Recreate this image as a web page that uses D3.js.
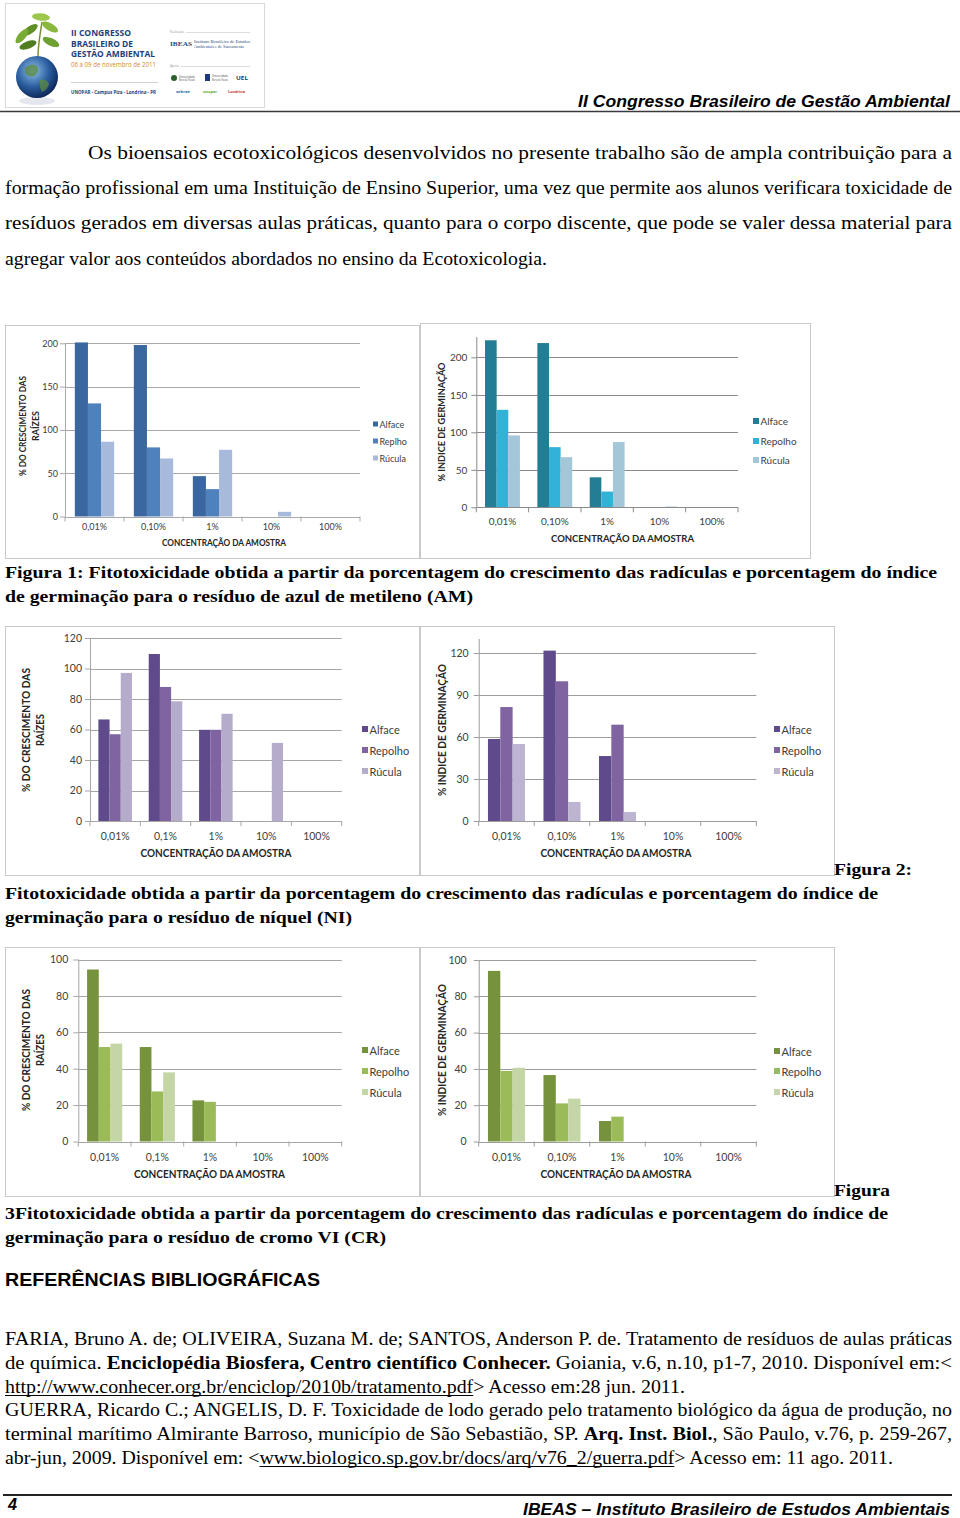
<!DOCTYPE html>
<html><head><meta charset="utf-8">
<script src="https://cdn.jsdelivr.net/npm/d3@7"></script>
<style>html,body{margin:0;padding:0;background:#fff}svg{display:block}</style>
</head><body>
<svg id="page" width="960" height="1518"></svg>
<script>
// ---------------- DATA ----------------
const concA = ["0,01%","0,10%","1%","10%","100%"];
const concB = ["0,01%","0,1%","1%","10%","100%"];
const speciesF1 = ["Alface","Replho","Rúcula"];
const species = ["Alface","Repolho","Rúcula"];

// Figura 1 – azul de metileno (AM)
const amRaizAlface  = [201, 198, 46.6, 0, 0];
const amRaizRepolho = [130.6, 79.8, 31.6, 0, 0];
const amRaizRucula  = [86.3, 67, 77, 5.4, 0];
const amGermAlface  = [222.7, 219, 40, 0, 0];
const amGermRepolho = [130, 80.2, 21, 0, 0];
const amGermRucula  = [95.8, 66.8, 87, 1, 0];
// Figura 2 – níquel (NI)
const niRaizAlface  = [66.6, 109.5, 59.8, 0, 0];
const niRaizRepolho = [56.9, 87.9, 59.8, 0, 0];
const niRaizRucula  = [97.1, 78.5, 70.3, 51.2, 0];
const niGermAlface  = [58.6, 121.7, 46.4, 0, 0];
const niGermRepolho = [81.4, 99.8, 68.8, 0, 0];
const niGermRucula  = [55, 13.6, 6.4, 0, 0];
// Figura 3 – cromo VI (CR)
const crRaizAlface  = [94.5, 51.9, 22.6, 0, 0];
const crRaizRepolho = [51.9, 27.5, 21.8, 0, 0];
const crRaizRucula  = [53.8, 38, 0, 0, 0];
const crGermAlface  = [94, 36.6, 11.3, 0, 0];
const crGermRepolho = [38.9, 21, 13.7, 0, 0];
const crGermRucula  = [40.6, 23.6, 0, 0, 0];

const ticksAM = [0, 50, 100, 150, 200];
const ticksNIRaiz = [0, 20, 40, 60, 80, 100, 120];
const ticksNIGerm = [0, 30, 60, 90, 120];
const ticksCR = [0, 20, 40, 60, 80, 100];

const yTitleRaiz = ["% DO CRESCIMENTO DAS", "RAÍZES"];
const yTitleGerm = ["% INDICE DE GERMINAÇÃO"];
const xTitle = "CONCENTRAÇÃO DA AMOSTRA";

// ---------------- PAGE ----------------
const svg = d3.select("#page");
const defs = svg.append("defs");
const CH = "Lato, 'Open Sans', sans-serif";

function textLine(segs, x0, x1, base, o){
  const els = segs.map(s => {
    const st = s[1] || "";
    const t = svg.append("text").attr("x", 0).attr("y", base).style("white-space","pre")
      .attr("font-family", o.family).attr("font-size", o.size)
      .attr("font-weight", (st.includes("b") || o.bold) ? "bold" : "normal")
      .attr("font-style", o.italic ? "italic" : "normal")
      .attr("fill", o.fill || "#000").text(s[0]);
    return {t, w: t.node().getComputedTextLength(), u: st.includes("u")};
  });
  const tot = d3.sum(els, e => e.w);
  const k = (x1 - x0) / tot;
  let x = x0;
  els.forEach(e => {
    const w = e.w * k;
    e.t.attr("x", x).attr("textLength", w).attr("lengthAdjust", "spacingAndGlyphs");
    if (e.u) svg.append("line").attr("x1", x).attr("x2", x + w).attr("y1", base + 2.5).attr("y2", base + 2.5)
      .attr("stroke", "#000").attr("stroke-width", 1);
    x += w;
  });
}

// ---- header logo ----
const gg = defs.append("radialGradient").attr("id","globe").attr("cx","40%").attr("cy","35%").attr("r","70%");
gg.append("stop").attr("offset","0%").attr("stop-color","#8fc0ea");
gg.append("stop").attr("offset","55%").attr("stop-color","#2a5e9f");
gg.append("stop").attr("offset","100%").attr("stop-color","#0a2050");
const logo = svg.append("g");
logo.append("rect").attr("x",5.5).attr("y",3.5).attr("width",259).attr("height",104).attr("fill","#fff").attr("stroke","#d9d9d9");
logo.append("ellipse").attr("cx",37).attr("cy",101).attr("rx",18).attr("ry",4).attr("fill","#e4e8ee");
logo.append("path").attr("d","M38,57 C38,45 40,35 42,22").attr("stroke","#7a8f3a").attr("stroke-width",1.5).attr("fill","none");
[[30,30,-35,"#5f8f25"],[50,27,30,"#8ab83f"],[28,45,-20,"#4f7d20"],[51,42,25,"#6fa032"],[41,17,5,"#9cc74c"],[22,36,-50,"#79aa35"]]
  .forEach(l => logo.append("ellipse").attr("cx",l[0]).attr("cy",l[1]).attr("rx",9).attr("ry",3.8)
    .attr("transform",`rotate(${l[2]},${l[0]},${l[1]})`).attr("fill",l[3]));
logo.append("circle").attr("cx",37).attr("cy",77).attr("r",21).attr("fill","url(#globe)");
logo.append("path").attr("d","M25,68 q6,-6 12,-2 q3,6 -3,10 q-5,2 -9,-3z M40,80 q6,-2 9,4 q-2,6 -7,8 q-3,-5 -2,-12z").attr("fill","#5d8a3c").attr("opacity",0.75);
const lt = (t,x,y,fs,fill,w,len,fam) => logo.append("text").attr("x",x).attr("y",y).attr("font-family",fam||"'Open Sans',sans-serif")
  .attr("font-size",fs).attr("font-weight",w||"normal").attr("fill",fill).attr("textLength",len).attr("lengthAdjust","spacingAndGlyphs").text(t);
lt("II CONGRESSO",71,36,8.5,"#1d3f7c","bold",60);
lt("BRASILEIRO DE",71,46.5,8.5,"#1d3f7c","bold",62);
lt("GESTÃO AMBIENTAL",71,57,8.5,"#1d3f7c","bold",84);
lt("06 a 09 de novembro de 2011",71,67,6.2,"#d58a2a","normal",85);
logo.append("line").attr("x1",71).attr("x2",158).attr("y1",82.5).attr("y2",82.5).attr("stroke","#d0d0d0");
lt("UNOPAR - Campus Piza - Londrina - PR",71,94,5.2,"#1d3f7c","bold",85);
lt("Realização",170,33,3,"#999","normal",14);
logo.append("line").attr("x1",186).attr("x2",250).attr("y1",32.5).attr("y2",32.5).attr("stroke","#ddd");
lt("IBEAS",170,46,6,"#2c4a7e","bold",22,"'Liberation Serif',serif");
lt("Instituto Brasileiro de Estudos",194,43,3.6,"#2c4a7e","normal",56,"'Liberation Serif',serif");
lt("Ambientais e de Saneamento",194,48,3.6,"#2c4a7e","normal",50,"'Liberation Serif',serif");
lt("Apoio",170,67,3,"#999","normal",9);
logo.append("line").attr("x1",181).attr("x2",250).attr("y1",66.5).attr("y2",66.5).attr("stroke","#ddd");
logo.append("circle").attr("cx",174).attr("cy",78).attr("r",3).attr("fill","#2d5f2e");
lt("Universidade",179,78,2.8,"#444","normal",16); lt("Norte do Paraná",179,81,2.8,"#444","normal",16);
logo.append("rect").attr("x",205).attr("y",74).attr("width",5).attr("height",7).attr("fill","#1f3a78");
lt("Universidade",212,77,2.8,"#444","normal",16); lt("Norte do Paraná",212,80.5,2.8,"#444","normal",16);
lt("UEL",236,80,5,"#1f3a78","bold",12);
lt("sebrae",176,93,4,"#1f6f9e","bold",14); lt("unopar",203,93,4,"#5aa82e","bold",14); lt("Londrina",228,93,4,"#c0392b","bold",17);

// header title
textLine([["II Congresso Brasileiro de Gestão Ambiental"]], 578, 950, 107, {family:"'Liberation Sans',Arial,sans-serif", size:17, bold:true, italic:true});
svg.append("line").attr("x1",0).attr("x2",960).attr("y1",111.5).attr("y2",111.5).attr("stroke","#3a3a3a").attr("stroke-width",1.6);

// body paragraph
const serif = {family:"'Liberation Serif','Times New Roman',serif", size:18};
textLine([["Os bioensaios ecotoxicológicos desenvolvidos no presente trabalho são de ampla contribuição para a"]], 88, 952, 159, serif);
textLine([["formação profissional em uma Instituição de Ensino Superior, uma vez que permite aos alunos verificara toxicidade de"]], 5, 952, 194, serif);
textLine([["resíduos gerados em diversas aulas práticas, quanto para o corpo discente, que pode se valer dessa material para"]], 5, 952, 229, serif);
textLine([["agregar valor aos conteúdos abordados no ensino da Ecotoxicologia."]], 5, 547, 265, serif);

// ---------------- CHARTS ----------------
function drawChart(c){
  const g = svg.append("g");
  g.append("rect").attr("x",c.frame[0]+0.5).attr("y",c.frame[1]+0.5).attr("width",c.frame[2]).attr("height",c.frame[3])
    .attr("fill","#fff").attr("stroke","#c9c9c9");
  const x0 = d3.scaleBand().domain(c.cats).range(c.xr).padding(0);
  const x1 = d3.scaleBand().domain(c.names).range([0, x0.bandwidth()]).paddingInner(0).paddingOuter(0.75);
  const tTop = c.ticks[c.ticks.length-1];
  const y = d3.scaleLinear().domain([0, tTop]).range([c.y0, c.yTop]);
  // gridlines
  g.selectAll("line.grid").data(c.ticks.filter(t => t > 0)).join("line").attr("class","grid")
    .attr("x1", c.xr[0]).attr("x2", c.xr[1]).attr("y1", d => Math.round(y(d))+0.5).attr("y2", d => Math.round(y(d))+0.5)
    .attr("stroke", c.grid).attr("stroke-width", 1);
  // y axis
  const yg = g.append("g").attr("transform", `translate(${c.xr[0]},0)`)
    .call(d3.axisLeft(y).tickValues(c.ticks).tickSize(5).tickPadding(c.yLabOff - 5).tickFormat(d3.format("d")));
  yg.select(".domain").remove();
  yg.selectAll(".tick line").attr("stroke", c.grid);
  yg.selectAll(".tick text").attr("font-family", CH).attr("font-size", c.fs).attr("fill", "#404040");
  g.append("line").attr("x1", c.xr[0]+0.5).attr("x2", c.xr[0]+0.5).attr("y1", y(0)).attr("y2", y(c.axisMax)).attr("stroke", c.grid);
  // bars
  c.names.forEach((s, i) => {
    g.append("g").selectAll("rect").data(c.cats.map((cat, j) => ({cat, v: c.values[i][j]}))).join("rect")
      .attr("x", d => x0(d.cat) + x1(s)).attr("width", x1.bandwidth())
      .attr("y", d => y(d.v)).attr("height", d => y(0) - y(d.v)).attr("fill", c.colors[i]);
  });
  // x axis
  const xg = g.append("g").attr("transform", `translate(0,${c.y0})`)
    .call(d3.axisBottom(x0).tickSize(0).tickPadding(c.xLabY - c.y0 - 0.36*c.fs));
  xg.select(".domain").remove();
  xg.selectAll(".tick text").attr("font-family", CH).attr("font-size", c.fs).attr("fill", "#404040");
  g.append("line").attr("x1", c.xr[0]).attr("x2", c.xr[1]).attr("y1", Math.round(c.y0)+0.5).attr("y2", Math.round(c.y0)+0.5).attr("stroke", c.grid);
  g.selectAll("line.bt").data(c.cats.concat(["end"])).join("line").attr("class","bt")
    .attr("x1", d => d === "end" ? c.xr[1] : x0(d)).attr("x2", d => d === "end" ? c.xr[1] : x0(d))
    .attr("y1", c.y0).attr("y2", c.y0 + 5).attr("stroke", c.grid);
  // titles
  g.append("text").attr("x", c.xt[0]).attr("y", c.xt[1]).attr("text-anchor","middle").attr("dominant-baseline","central")
    .attr("font-family", CH).attr("font-weight","bold").attr("font-size", c.fs).attr("fill","#262626")
    .attr("textLength", c.xt[2]).attr("lengthAdjust","spacingAndGlyphs").text(xTitle);
  c.yTitle.forEach((t, i) => {
    g.append("text").attr("transform", `translate(${c.ytx[i]},${c.ytcy}) rotate(-90)`).attr("text-anchor","middle")
      .attr("dominant-baseline","central").attr("font-family", CH).attr("font-weight","bold").attr("font-size", c.fs)
      .attr("fill","#262626").attr("textLength", c.ytLen[i]).attr("lengthAdjust","spacingAndGlyphs").text(t);
  });
  // legend
  c.names.forEach((s, i) => {
    g.append("rect").attr("x", c.lg.x).attr("y", c.lg.ys[i] - c.lg.sq/2).attr("width", c.lg.sq).attr("height", c.lg.sq).attr("fill", c.colors[i]);
    g.append("text").attr("x", c.lg.x + c.lg.sq + 1.5).attr("y", c.lg.ys[i]).attr("dominant-baseline","central")
      .attr("font-family", CH).attr("font-size", c.lg.fs).attr("fill","#404040").text(s);
  });
}

const blue = ["#3b67a1","#4f81bd","#a7badb"];
const teal = ["#237d95","#33b2d8","#a3c6d8"];
const purple = ["#5f4a8b","#8064a2","#b5abca"];
const purple2 = ["#5f4a8b","#8064a2","#bcb4d0"];
const green = ["#76923c","#9bbb59","#c4d6a6"];

drawChart({frame:[5,325,414,233], cats:concA, names:speciesF1, values:[amRaizAlface,amRaizRepolho,amRaizRucula], colors:blue,
  ticks:ticksAM, xr:[65,360], y0:516.5, yTop:343.3, axisMax:200, grid:"#a9a9a9", yLabOff:7, fs:9, xLabY:527,
  yTitle:yTitleRaiz, ytx:[22,35], ytcy:426, ytLen:[100,30], xt:[224,542,124], lg:{x:373, ys:[424,441,458], sq:5, fs:9}});
drawChart({frame:[420,323,390,235], cats:concA, names:species, values:[amGermAlface,amGermRepolho,amGermRucula], colors:teal,
  ticks:ticksAM, xr:[476.3,738], y0:507.3, yTop:357.3, axisMax:227, grid:"#8a8a8a", yLabOff:9, fs:10, xLabY:522,
  yTitle:yTitleGerm, ytx:[441], ytcy:422, ytLen:[119], xt:[622.5,538,143], lg:{x:753, ys:[421,441,460], sq:6, fs:10}});
drawChart({frame:[5,626,414,249], cats:concB, names:species, values:[niRaizAlface,niRaizRepolho,niRaizRucula], colors:purple,
  ticks:ticksNIRaiz, xr:[90,341.7], y0:821, yTop:638, axisMax:120, grid:"#a6a6a6", yLabOff:8, fs:10.5, xLabY:836,
  yTitle:yTitleRaiz, ytx:[26,40], ytcy:730, ytLen:[124,32], xt:[216,853,151], lg:{x:362, ys:[729,750,771], sq:6, fs:11}});
drawChart({frame:[420,626,414,249], cats:concA, names:species, values:[niGermAlface,niGermRepolho,niGermRucula], colors:purple2,
  ticks:ticksNIGerm, xr:[478.7,756.3], y0:821, yTop:653, axisMax:130, grid:"#9c9c9c", yLabOff:10, fs:10.5, xLabY:836,
  yTitle:yTitleGerm, ytx:[442], ytcy:730, ytLen:[132], xt:[616,853,151], lg:{x:774, ys:[729,750,771], sq:6, fs:11}});
drawChart({frame:[5,947,414,249], cats:concB, names:species, values:[crRaizAlface,crRaizRepolho,crRaizRucula], colors:green,
  ticks:ticksCR, xr:[78.3,341.7], y0:1141.5, yTop:959.5, axisMax:100, grid:"#a6a6a6", yLabOff:10, fs:10.5, xLabY:1157,
  yTitle:yTitleRaiz, ytx:[26,40], ytcy:1050, ytLen:[122,32], xt:[209.5,1174,151], lg:{x:362, ys:[1050,1071,1092], sq:6, fs:11}});
drawChart({frame:[420,947,414,249], cats:concA, names:species, values:[crGermAlface,crGermRepolho,crGermRucula], colors:green,
  ticks:ticksCR, xr:[478.7,756.3], y0:1141.5, yTop:960, axisMax:100, grid:"#9c9c9c", yLabOff:12, fs:10.5, xLabY:1157,
  yTitle:yTitleGerm, ytx:[442], ytcy:1050, ytLen:[132], xt:[616,1174,151], lg:{x:774, ys:[1051,1071,1092], sq:6, fs:11}});

// ---------------- CAPTIONS ----------------
const cap = {family:"'Liberation Serif','Times New Roman',serif", size:17.5, bold:true};
textLine([["Figura 1: Fitotoxicidade obtida a partir da porcentagem do crescimento das radículas e porcentagem do índice"]], 5, 937, 578, cap);
textLine([["de germinação para o resíduo de azul de metileno (AM)"]], 5, 473, 602, cap);
textLine([["Figura 2:"]], 834, 912, 875, cap);
textLine([["Fitotoxicidade obtida a partir da porcentagem do crescimento das radículas e porcentagem do índice de"]], 5, 878, 899, cap);
textLine([["germinação para o resíduo de níquel (NI)"]], 5, 352, 923, cap);
textLine([["Figura"]], 834, 890, 1196, cap);
textLine([["3Fitotoxicidade obtida a partir da porcentagem do crescimento das radículas e porcentagem do índice de"]], 5, 888, 1219, cap);
textLine([["germinação para o resíduo de cromo VI (CR)"]], 5, 386, 1243, cap);

textLine([["REFERÊNCIAS BIBLIOGRÁFICAS"]], 5, 320, 1286, {family:"'Liberation Sans',Arial,sans-serif", size:18, bold:true});

textLine([["FARIA, Bruno A. de; OLIVEIRA, Suzana M. de; SANTOS, Anderson P. de. Tratamento de resíduos de aulas práticas"]], 5, 952, 1345, serif);
textLine([["de química. "],["Enciclopédia Biosfera, Centro científico Conhecer.","b"],[" Goiania, v.6, n.10, p1-7, 2010. Disponível em:<"]], 5, 952, 1369, serif);
textLine([["http://www.conhecer.org.br/enciclop/2010b/tratamento.pdf","u"],["> Acesso em:28 jun. 2011."]], 5, 685, 1393, serif);
textLine([["GUERRA, Ricardo C.; ANGELIS, D. F. Toxicidade de lodo gerado pelo tratamento biológico da água de produção, no"]], 5, 952, 1416, serif);
textLine([["terminal marítimo Almirante Barroso, município de São Sebastião, SP. "],["Arq. Inst. Biol.","b"],[", São Paulo, v.76, p. 259-267,"]], 5, 952, 1440, serif);
textLine([["abr-jun, 2009. Disponível em: <"],["www.biologico.sp.gov.br/docs/arq/v76_2/guerra.pdf","u"],["> Acesso em: 11 ago. 2011."]], 5, 893, 1464, serif);

// footer
svg.append("line").attr("x1",3).attr("x2",952).attr("y1",1495).attr("y2",1495).attr("stroke","#222").attr("stroke-width",2);
textLine([["4"]], 8, 17, 1510, {family:"'Liberation Sans',Arial,sans-serif", size:16, bold:true, italic:true});
textLine([["IBEAS – Instituto Brasileiro de Estudos Ambientais"]], 523, 950, 1515, {family:"'Liberation Sans',Arial,sans-serif", size:17, bold:true, italic:true});
</script>
</body></html>
